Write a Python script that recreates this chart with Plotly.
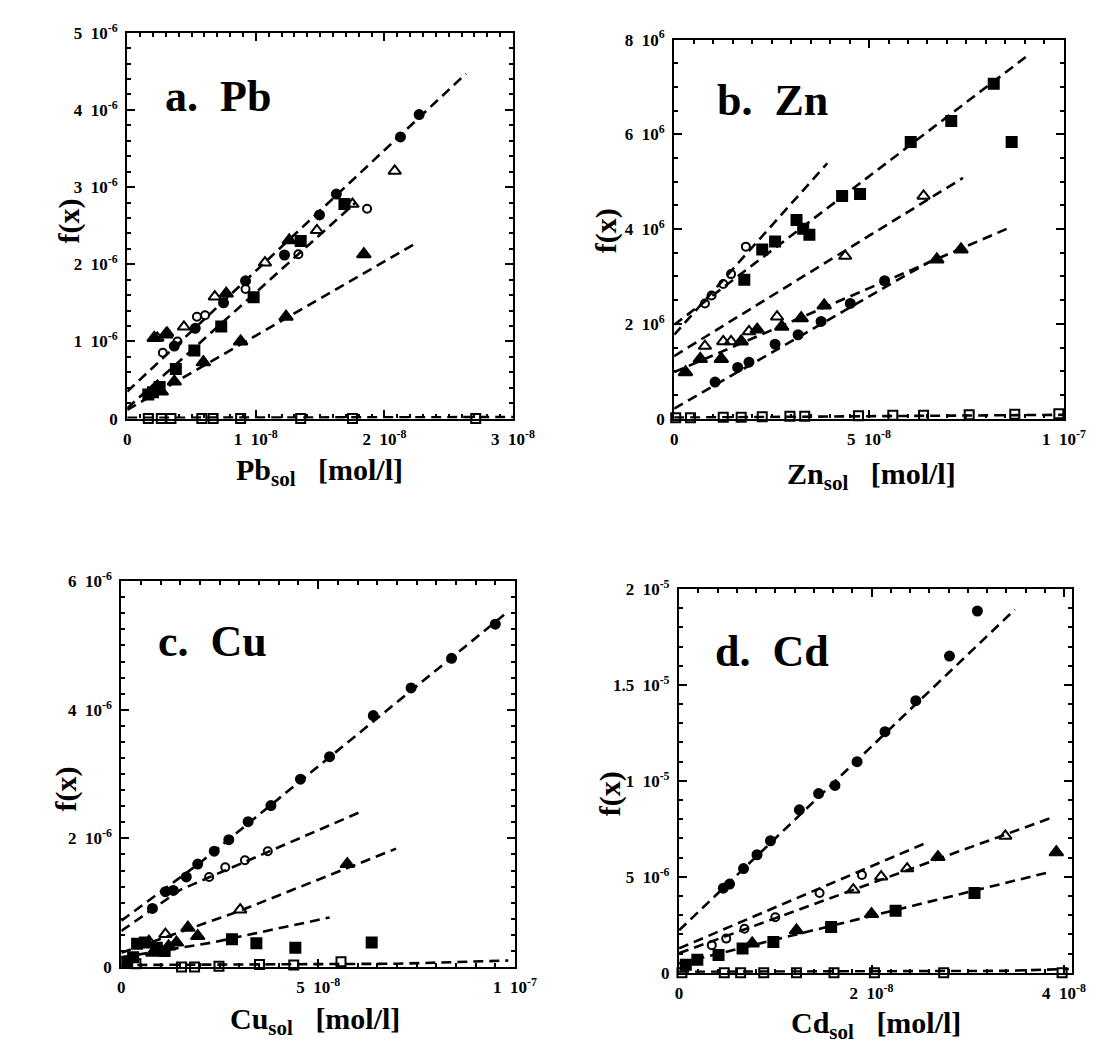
import numpy as np
import plotly.graph_objects as go

XU8 = 1e-8   # x values below are read in units of 1e-8 mol/l
YU6 = 1e-6   # y values below are read in units of 1e-6

# ---------------- a. Pb ----------------
pb_fc_x = [2.27, 2.125, 1.626, 1.495, 1.223, 0.92, 0.749, 0.529, 0.366]
pb_fc_y = [3.94, 3.65, 2.91, 2.64, 2.12, 1.785, 1.50, 1.17, 0.94]
pb_ot_x = [2.08, 1.752, 1.475, 1.071, 0.681, 0.441, 0.234, 0.31]
pb_ot_y = [3.21, 2.78, 2.44, 2.02, 1.58, 1.19, 1.045, 1.11]
pb_ft_x = [1.26, 0.77, 0.30, 0.21, 1.84, 1.235, 0.882, 0.592, 0.366, 0.265]
pb_ft_y = [2.31, 1.62, 1.09, 1.045, 2.13, 1.32, 1.00, 0.73, 0.48, 0.35]
pb_fs_x = [1.689, 1.349, 0.983, 0.731, 0.522, 0.378, 0.252, 0.164, 0.20]
pb_fs_y = [2.78, 2.30, 1.574, 1.193, 0.884, 0.643, 0.41, 0.313, 0.34]
pb_oc_x = [1.865, 1.331, 0.92, 0.605, 0.542, 0.391, 0.277]
pb_oc_y = [2.72, 2.13, 1.68, 1.34, 1.32, 1.00, 0.854]
pb_os_x = [0.164, 0.265, 0.340, 0.58, 0.668, 0.882, 1.349, 1.752, 2.71]
pb_os_y = [0.0, 0.0, 0.0, 0.0, 0.0, 0.0, 0.0, 0.0, 0.0]
pb_fits = [
    ([0.0, 2.634], [0.35, 4.47]),
    ([0.0, 1.777], [0.135, 2.80]),
    ([0.0, 2.243], [0.114, 2.27]),
    ([0.0, 3.0], [0.01, 0.02]),
]

# ---------------- b. Zn ----------------
zn_ot_x = [2.64, 1.92, 1.46, 1.26, 0.79, 4.39, 6.40]
zn_ot_y = [2.15, 1.84, 1.63, 1.63, 1.53, 3.43, 4.70]
zn_oc_x = [1.84, 1.46, 1.26, 0.96, 0.79]
zn_oc_y = [3.63, 3.05, 2.84, 2.60, 2.43]
zn_fs_x = [8.20, 7.11, 6.07, 8.66, 4.77, 4.31, 3.47, 3.14, 3.31, 2.59, 2.26, 1.80]
zn_fs_y = [7.07, 6.28, 5.84, 5.84, 4.74, 4.70, 3.88, 4.19, 4.01, 3.74, 3.57, 2.93]
zn_ft_x = [7.36, 6.74, 3.85, 3.26, 2.76, 2.13, 1.72, 1.21, 0.67, 0.29]
zn_ft_y = [3.57, 3.36, 2.39, 2.12, 1.94, 1.88, 1.63, 1.26, 1.26, 0.98]
zn_fc_x = [1.05, 1.63, 1.92, 2.59, 3.18, 3.77, 4.52, 5.40]
zn_fc_y = [0.77, 1.08, 1.19, 1.57, 1.77, 2.05, 2.43, 2.91]
zn_os_x = [0.04, 0.42, 1.26, 1.72, 2.26, 2.97, 3.35, 4.73, 5.61, 6.40, 7.57, 8.74, 9.87]
zn_os_y = [0.02, 0.02, 0.03, 0.03, 0.04, 0.05, 0.05, 0.06, 0.07, 0.07, 0.08, 0.09, 0.10]
zn_fits = [
    ([0.0, 3.93], [1.77, 5.39]),
    ([0.0, 9.08], [1.98, 7.67]),
    ([0.0, 7.41], [1.32, 5.08]),
    ([0.0, 8.66], [0.98, 4.05]),
    ([0.0, 6.57], [0.21, 3.32]),
    ([0.0, 10.0], [0.02, 0.08]),
]

# ---------------- c. Cu ----------------
cu_fc_x = [9.50, 8.39, 7.36, 6.40, 5.29, 4.55, 3.80, 3.22, 2.73, 2.36, 1.94, 1.65, 1.32, 1.12, 0.79]
cu_fc_y = [5.33, 4.80, 4.34, 3.91, 3.27, 2.92, 2.51, 2.26, 1.98, 1.80, 1.60, 1.40, 1.19, 1.17, 0.91]
cu_oc_x = [3.72, 3.14, 2.64, 2.23]
cu_oc_y = [1.80, 1.66, 1.55, 1.40]
cu_ot_x = [3.02, 1.12, 0.70]
cu_ot_y = [0.89, 0.51, 0.40]
cu_ft_x = [5.74, 1.94, 1.69, 1.40, 1.20, 0.80]
cu_ft_y = [1.60, 0.48, 0.61, 0.38, 0.32, 0.22]
cu_fs_x = [6.36, 4.42, 3.43, 2.81, 0.40, 0.60, 0.90, 1.10, 0.30, 0.15]
cu_fs_y = [0.38, 0.30, 0.37, 0.43, 0.36, 0.38, 0.30, 0.25, 0.15, 0.08]
cu_os_x = [0.37, 1.53, 1.86, 2.48, 3.51, 4.38, 5.58]
cu_os_y = [0.05, 0.0, 0.0, 0.01, 0.04, 0.03, 0.08]
cu_fits = [
    ([0.0, 2.0, 9.79], [0.72, 1.62, 5.51]),
    ([0.0, 1.5, 6.07], [0.56, 1.20, 2.41]),
    ([0.0, 3.0, 6.98], [0.22, 0.87, 1.84]),
    ([0.0, 2.31, 5.29], [0.15, 0.38, 0.77]),
    ([0.0, 7.0, 9.83], [0.03, 0.05, 0.10]),
]

# ---------------- d. Cd ----------------
cd_fc_x = [3.10, 2.81, 2.46, 2.14, 1.85, 1.62, 1.45, 1.25, 0.95, 0.81, 0.67, 0.525, 0.46]
cd_fc_y = [18.85, 16.5, 14.18, 12.56, 11.0, 9.76, 9.34, 8.49, 6.88, 6.15, 5.43, 4.62, 4.41]
cd_oc_x = [1.90, 1.46, 1.00, 0.68, 0.49, 0.34]
cd_oc_y = [5.09, 4.16, 2.89, 2.29, 1.78, 1.44]
cd_ot_x = [3.39, 2.37, 2.10, 1.81]
cd_ot_y = [7.13, 5.43, 5.01, 4.33]
cd_ft_x = [3.92, 2.69, 2.00, 1.22, 0.76]
cd_ft_y = [6.28, 6.03, 3.06, 2.21, 1.53]
cd_fs_x = [3.07, 2.25, 1.58, 0.98, 0.66, 0.41, 0.19, 0.07]
cd_fs_y = [4.16, 3.23, 2.38, 1.61, 1.27, 0.93, 0.68, 0.42]
cd_os_x = [0.03, 0.47, 0.64, 0.88, 1.22, 1.61, 2.03, 2.75, 3.98]
cd_os_y = [0.0, 0.0, 0.0, 0.0, 0.0, 0.0, 0.0, 0.0, 0.0]
cd_fits = [
    ([0.0, 3.49], [2.21, 18.93]),
    ([0.0, 2.54], [1.27, 6.71]),
    ([0.0, 3.86], [1.02, 8.06]),
    ([0.0, 3.86], [0.49, 5.26]),
    ([0.0, 3.4, 4.05], [0.05, 0.10, 0.20]),
]

# tick labels
pb_xticks = [0, 1e-8, 2e-8, 3e-8]
pb_xtext = ["0", "1 10<sup>-8</sup>", "2 10<sup>-8</sup>", "3 10<sup>-8</sup>"]
pb_yticks = [0, 1e-6, 2e-6, 3e-6, 4e-6, 5e-6]
pb_ytext = ["0", "1 10<sup>-6</sup>", "2 10<sup>-6</sup>", "3 10<sup>-6</sup>",
            "4 10<sup>-6</sup>", "5 10<sup>-6</sup>"]
zn_xticks = [0, 5e-8, 1e-7]
zn_xtext = ["0", "5 10<sup>-8</sup>", "1 10<sup>-7</sup>"]
zn_yticks = [0, 2e-6, 4e-6, 6e-6, 8e-6]
zn_ytext = ["0", "2 10<sup>6</sup>", "4 10<sup>6</sup>", "6 10<sup>6</sup>", "8 10<sup>6</sup>"]
cu_xticks = [0, 5e-8, 1e-7]
cu_xtext = ["0", "5 10<sup>-8</sup>", "1 10<sup>-7</sup>"]
cu_yticks = [0, 2e-6, 4e-6, 6e-6]
cu_ytext = ["0", "2 10<sup>-6</sup>", "4 10<sup>-6</sup>", "6 10<sup>-6</sup>"]
cd_xticks = [0, 2e-8, 4e-8]
cd_xtext = ["0", "2 10<sup>-8</sup>", "4 10<sup>-8</sup>"]
cd_yticks = [0, 5e-6, 1e-5, 1.5e-5, 2e-5]
cd_ytext = ["0", "5 10<sup>-6</sup>", "1 10<sup>-5</sup>", "1.5 10<sup>-5</sup>", "2 10<sup>-5</sup>"]


def fmt(labels):
    # bold, with a wider gap between mantissa and power of ten
    return ["<b>" + t.replace(" ", "&nbsp;&nbsp;") + "</b>" for t in labels]


FONT = "Liberation Serif"
fig = go.Figure()

panels = [
    dict(n=1, xd=[0.1059, 0.4605], yd=[0.616, 0.9877], xr=[0, 3.0e-8], yr=[0, 5e-6],
         xt=(pb_xticks, pb_xtext), yt=(pb_yticks, pb_ytext), xm=1e-9, ym=2e-7,
         series=[(pb_fc_x, pb_fc_y, "circle"), (pb_oc_x, pb_oc_y, "circle-open"),
                 (pb_ft_x, pb_ft_y, "triangle-up"), (pb_ot_x, pb_ot_y, "triangle-up-open"),
                 (pb_fs_x, pb_fs_y, "square"), (pb_os_x, pb_os_y, "square-open")],
         fits=pb_fits,
         label="a.  Pb", lx=155, ly=78, ftx=58, fty=205, xtx=315, xty=462, el="Pb"),
    dict(n=2, xd=[0.6086, 0.9668], yd=[0.616, 0.9811], xr=[0, 1e-7], yr=[0, 8e-6],
         xt=(zn_xticks, zn_xtext), yt=(zn_yticks, zn_ytext), xm=5e-9, ym=5e-7,
         series=[(zn_fc_x, zn_fc_y, "circle"), (zn_oc_x, zn_oc_y, "circle-open"),
                 (zn_ft_x, zn_ft_y, "triangle-up"), (zn_ot_x, zn_ot_y, "triangle-up-open"),
                 (zn_fs_x, zn_fs_y, "square"), (zn_os_x, zn_os_y, "square-open")],
         fits=zn_fits,
         label="b.  Zn", lx=720, ly=82, ftx=608, fty=215, xtx=880, xty=466, el="Zn"),
    dict(n=3, xd=[0.1005, 0.4623], yd=[0.0877, 0.4594], xr=[0, 1e-7], yr=[0, 6e-6],
         xt=(cu_xticks, cu_xtext), yt=(cu_yticks, cu_ytext), xm=5e-9, ym=2.5e-7,
         series=[(cu_fc_x, cu_fc_y, "circle"), (cu_oc_x, cu_oc_y, "circle-open"),
                 (cu_ft_x, cu_ft_y, "triangle-up"), (cu_ot_x, cu_ot_y, "triangle-up-open"),
                 (cu_fs_x, cu_fs_y, "square"), (cu_os_x, cu_os_y, "square-open")],
         fits=cu_fits,
         label="c.  Cu", lx=147, ly=635, ftx=55, fty=785, xtx=310, xty=1022, el="Cu"),
    dict(n=4, xd=[0.6131, 0.974], yd=[0.0821, 0.4519], xr=[0, 4.08e-8], yr=[0, 2e-5],
         xt=(cd_xticks, cd_xtext), yt=(cd_yticks, cd_ytext), xm=2e-9, ym=1e-6,
         series=[(cd_fc_x, cd_fc_y, "circle"), (cd_oc_x, cd_oc_y, "circle-open"),
                 (cd_ft_x, cd_ft_y, "triangle-up"), (cd_ot_x, cd_ot_y, "triangle-up-open"),
                 (cd_fs_x, cd_fs_y, "square"), (cd_os_x, cd_os_y, "square-open")],
         fits=cd_fits,
         label="d.  Cd", lx=718, ly=645, ftx=612, fty=790, xtx=885, xty=1026, el="Cd"),
]

sizes = {"circle": 9, "circle-open": 8, "triangle-up": 12, "triangle-up-open": 11,
         "square": 10, "square-open": 9}

annotations = []
W, H = 1114, 1060


def axname(i):
    return "" if i == 1 else str(i)


for p in panels:
    i = p["n"]
    j = i + 4
    xa, ya = "x" + axname(i), "y" + axname(i)
    xo, yo = "x" + str(j), "y" + str(j)
    for fx, fy in p["fits"]:
        fig.add_trace(go.Scatter(x=np.array(fx) * XU8, y=np.array(fy) * YU6,
                                 mode="lines", xaxis=xa, yaxis=ya, showlegend=False,
                                 line=dict(color="black", width=2.6, dash="10px,6px")))
    for sx, sy, sym in p["series"]:
        fig.add_trace(go.Scatter(x=np.array(sx) * XU8, y=np.array(sy) * YU6,
                                 mode="markers", xaxis=xa, yaxis=ya, showlegend=False,
                                 cliponaxis=False,
                                 marker=dict(symbol=sym, size=sizes[sym], color="black",
                                             line=dict(color="black", width=2))))
    # invisible trace so that the mirrored top/right tick axes are drawn
    fig.add_trace(go.Scatter(x=[p["xr"][0]], y=[p["yr"][0]], mode="markers",
                             xaxis=xo, yaxis=yo, showlegend=False, hoverinfo="skip",
                             marker=dict(opacity=0)))
    common = dict(showline=True, linewidth=2.2, linecolor="black",
                  ticks="inside", ticklen=8, tickwidth=2, tickcolor="black",
                  showgrid=False, zeroline=False,
                  tickfont=dict(family=FONT, size=17, color="black"))
    xminor = dict(dtick=p["xm"], ticks="inside", ticklen=4, tickwidth=1.6, tickcolor="black")
    yminor = dict(dtick=p["ym"], ticks="inside", ticklen=4, tickwidth=1.6, tickcolor="black")
    fig.update_layout(**{
        "xaxis" + axname(i): dict(domain=p["xd"], range=p["xr"], anchor=ya,
                                  tickvals=p["xt"][0], ticktext=fmt(p["xt"][1]),
                                  ticklabelstandoff=4, minor=xminor, **common),
        "yaxis" + axname(i): dict(domain=p["yd"], range=p["yr"], anchor=xa,
                                  tickvals=p["yt"][0], ticktext=fmt(p["yt"][1]),
                                  ticklabelstandoff=4, minor=yminor, **common),
        "xaxis" + str(j): dict(overlaying=xa, range=p["xr"], anchor=ya, side="top",
                               tickvals=p["xt"][0], showticklabels=False,
                               minor=xminor, **common),
        "yaxis" + str(j): dict(overlaying=ya, range=p["yr"], anchor=xa, side="right",
                               tickvals=p["yt"][0], showticklabels=False,
                               minor=yminor, **common),
    })
    annotations.append(dict(text="<b>" + p["label"] + "</b>", xref="paper", yref="paper",
                            x=p["lx"] / W, y=1 - p["ly"] / H, xanchor="left", yanchor="middle",
                            showarrow=False, font=dict(family=FONT, size=44, color="black")))
    annotations.append(dict(text="<b>f(x)</b>", xref="paper", yref="paper",
                            x=p["ftx"] / W, y=1 - p["fty"] / H, textangle=-90,
                            xanchor="center", yanchor="middle", showarrow=False,
                            font=dict(family=FONT, size=30, color="black")))
    annotations.append(dict(text="<b>" + p["el"] + "<sub>sol</sub>   [mol/l]</b>",
                            xref="paper", yref="paper",
                            x=p["xtx"] / W, y=1 - p["xty"] / H,
                            xanchor="center", yanchor="middle", showarrow=False,
                            font=dict(family=FONT, size=30, color="black")))

fig.update_layout(width=W, height=H, margin=dict(l=0, r=0, t=0, b=0),
                  paper_bgcolor="white", plot_bgcolor="white",
                  annotations=annotations, showlegend=False)
fig.write_html("out.html")
